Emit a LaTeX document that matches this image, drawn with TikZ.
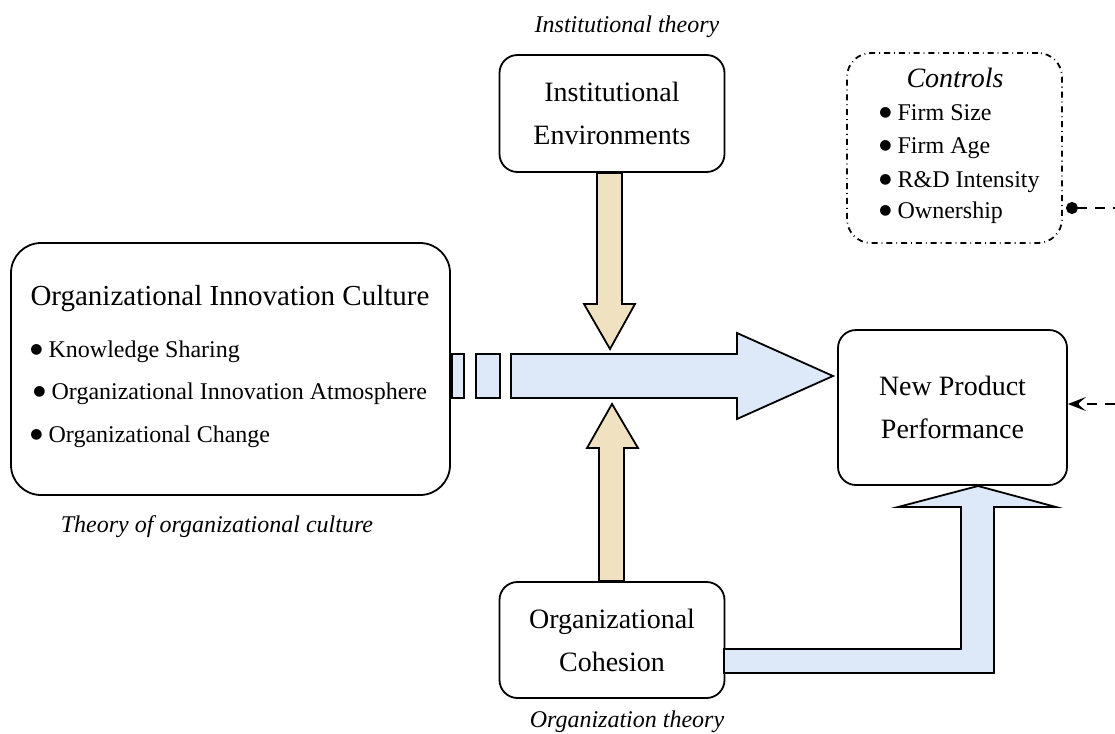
\documentclass[tikz,border=0pt]{standalone}
\usepackage{fontspec}
\setmainfont{Liberation Serif}
\newfontfamily\dotfont{DejaVu Sans}
\usetikzlibrary{arrows.meta}
\definecolor{flowblue}{RGB}{221,233,249}
\definecolor{flowtan}{RGB}{240,226,192}
\newcommand{\itemdot}{\raisebox{1.6pt}{\dotfont\fontsize{7}{8}\selectfont ●}\hspace{3pt}}

\begin{document}
\begin{tikzpicture}[x=0.5pt,y=-0.5pt,
    box/.style={draw,rounded corners=9pt,line width=0.9pt,align=center,
        font=\fontsize{14}{21.5}\selectfont},
    caption/.style={font=\fontsize{12}{14}\selectfont\itshape},
    item/.style={anchor=base west,inner sep=0pt,font=\fontsize{12}{14}\selectfont},
    blockarrow/.style={draw,line width=0.9pt,line join=miter},
    link/.style={dashed,dash pattern=on 5pt off 4pt,line width=1pt}]
    \useasboundingbox (0,0) rectangle (1115,734);
    % boxes
    \node[box,minimum width=112.5pt,minimum height=58.5pt] at (612,113.5) (IE) {Institutional\\Environments};
    \node[box,rounded corners=15pt,minimum width=219.5pt,minimum height=126pt] at (230.5,369) (OIC) {};
    \node[box,minimum width=114.5pt,minimum height=77.5pt] at (952.5,407.5) (NPP) {New Product\\Performance};
    \node[box,minimum width=112.5pt,minimum height=58pt] at (612,640) (COH) {Organizational\\Cohesion};
    \node[draw,dash dot,line width=0.9pt,rounded corners=12pt,minimum width=107.5pt,minimum height=95pt] at (954.5,148) (CTRL) {};
    % texts
    \node[caption] at (627,27) (IEt) {Institutional theory};
    \node[caption] at (217,527) (OICt) {Theory of organizational culture};
    \node[caption] at (627,722) (COHt) {Organization theory};
    \node[anchor=base,font=\fontsize{14.5}{16}\selectfont] at (230,305) (OICh) {Organizational Innovation Culture};
    \node[item] at (30,357) (ks) {\itemdot Knowledge Sharing};
    \node[item] at (33,399) (oia) {\itemdot Organizational Innovation Atmosphere};
    \node[item] at (30,442) (oc) {\itemdot Organizational Change};
    \node[anchor=base,font=\fontsize{14}{16}\selectfont\itshape] at (955,87) (CTRLh) {Controls};
    \node[item] at (879,120) (fs) {\itemdot Firm Size};
    \node[item] at (879,153) (fa) {\itemdot Firm Age};
    \node[item] at (879,187) (rd) {\itemdot R\&D Intensity};
    \node[item] at (879,218) (ow) {\itemdot Ownership};
    % block arrows
    \draw[blockarrow,fill=flowblue] (452,354) rectangle (464,398);
    \draw[blockarrow,fill=flowblue] (476,354) rectangle (500,398);
    \draw[blockarrow,fill=flowblue] (511,354) -- (737,354) -- (737,333) -- (833,376)
        -- (737,419) -- (737,398) -- (511,398) -- cycle;
    \draw[blockarrow,fill=flowtan] (597,173) -- (622,173) -- (622,304) -- (635,304)
        -- (610,349) -- (584,304) -- (597,304) -- cycle;
    \draw[blockarrow,fill=flowtan] (599,581) -- (599,448) -- (587,448) -- (612,404)
        -- (638,448) -- (624,448) -- (624,581) -- cycle;
    \draw[blockarrow,fill=flowblue] (724,649) -- (961,649) -- (961,507) -- (898,507)
        -- (978,486) -- (1056,507) -- (994,507) -- (994,673) -- (724,673) -- cycle;
    % control links
    \coordinate (ctrlOut) at (1066,208);
    \coordinate (ctrlEnd) at (1115,208);
    \coordinate (nppIn) at (1115,404);
    \draw[link,{Circle[length=6pt]}-] (ctrlOut) -- (ctrlEnd);
    \draw[link,-{Stealth[length=9pt,width=7pt,inset=4pt]}] (nppIn) -- (NPP.east |- nppIn);
\end{tikzpicture}
\end{document}
